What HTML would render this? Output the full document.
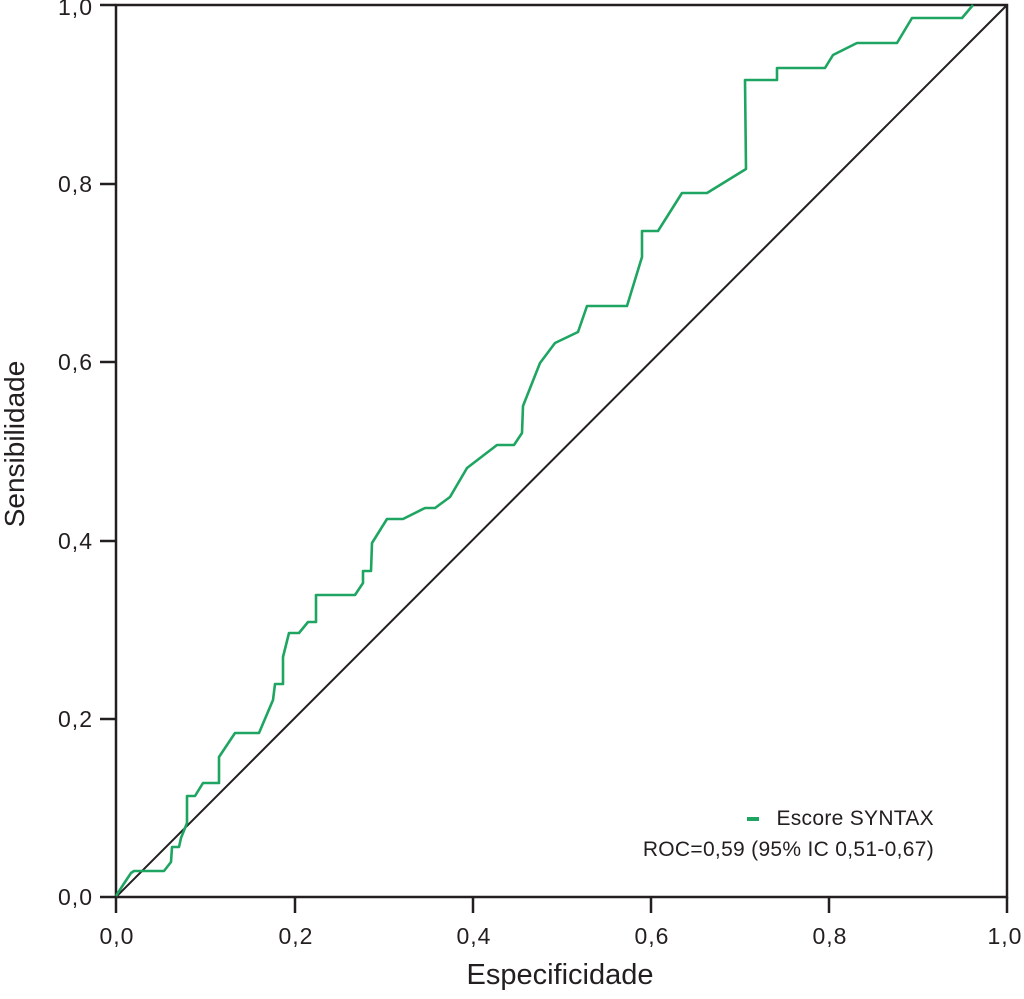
<!DOCTYPE html>
<html><head><meta charset="utf-8"><style>
html,body{margin:0;padding:0;background:#fff;}
svg{display:block;}
text{font-family:"Liberation Sans",Arial,sans-serif;fill:#231f20;}
</style></head><body>
<svg width="1024" height="999" viewBox="0 0 1024 999" xmlns="http://www.w3.org/2000/svg">
<rect x="116" y="5" width="891" height="892" fill="none" stroke="#231f20" stroke-width="2.5"/>
<line x1="116" y1="897" x2="1007" y2="5" stroke="#231f20" stroke-width="2"/>
<polyline fill="none" stroke="#1fa562" stroke-width="2.6" stroke-linejoin="round" points="116,896 123,885 131,873 134,871 164,871 171,862 172,847 179,847 181,838 187,823 187,796 195,796 203,783 219,783 219,757 235,733 259,733 273,700 275,684 283,684 283,657 289,633 299,633 308,622 316,622 316,595 355,595 363,583 363,571 371,571 372,543 387,519 403,519 425,508 435,508 450,497 467,468 497,445 514,445 522,433 523,406 540,363 555,343 578,332 587,306 627,306 642,257 642,231 658,231 682,193 707,193 746,169 745,80 777,80 777,68 825,68 833,55 857,43 897,43 912,18 962,18 973,5"/>
<g stroke="#231f20" stroke-width="2.5">
<line x1="116" y1="897" x2="116" y2="913"/>
<line x1="295" y1="897" x2="295" y2="913"/>
<line x1="473" y1="897" x2="473" y2="913"/>
<line x1="651" y1="897" x2="651" y2="913"/>
<line x1="829" y1="897" x2="829" y2="913"/>
<line x1="1007" y1="897" x2="1007" y2="913"/>
<line x1="100" y1="897" x2="116" y2="897"/>
<line x1="100" y1="719" x2="116" y2="719"/>
<line x1="100" y1="541" x2="116" y2="541"/>
<line x1="100" y1="362" x2="116" y2="362"/>
<line x1="100" y1="184" x2="116" y2="184"/>
<line x1="100" y1="5" x2="116" y2="5"/>
</g>
<g font-size="23" text-anchor="middle" letter-spacing="1">
<text x="117" y="944">0,0</text>
<text x="296" y="944">0,2</text>
<text x="474" y="944">0,4</text>
<text x="652" y="944">0,6</text>
<text x="830" y="944">0,8</text>
<text x="1005" y="944">1,0</text>
</g>
<g font-size="23" text-anchor="end" letter-spacing="1">
<text x="93" y="905">0,0</text>
<text x="93" y="727">0,2</text>
<text x="93" y="549">0,4</text>
<text x="93" y="370">0,6</text>
<text x="93" y="192">0,8</text>
<text x="93" y="15">1,0</text>
</g>
<text x="560" y="984" font-size="29" text-anchor="middle">Especificidade</text>
<text transform="translate(24,444) rotate(-90)" font-size="28" text-anchor="middle">Sensibilidade</text>
<rect x="747" y="817" width="12" height="4" fill="#1fa562"/>
<text x="934" y="825" font-size="21" text-anchor="end" letter-spacing="0.3">Escore SYNTAX</text>
<text x="934" y="856" font-size="21" text-anchor="end" letter-spacing="0.3">ROC=0,59 (95% IC 0,51-0,67)</text>
</svg>
</body></html>
